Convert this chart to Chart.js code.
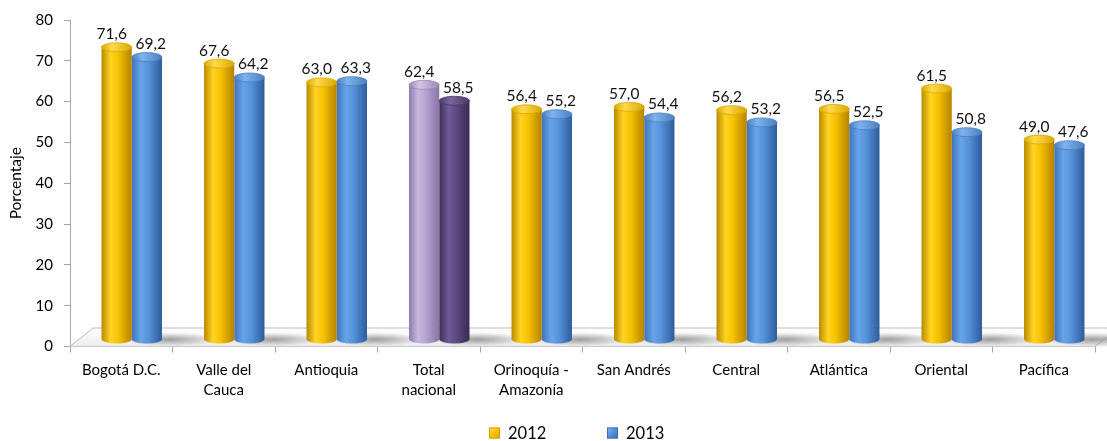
<!DOCTYPE html>
<html><head><meta charset="utf-8">
<script src="https://cdn.jsdelivr.net/npm/chart.js@4/dist/chart.umd.min.js"></script>
<style>html,body{margin:0;padding:0;background:#fff}#wrap{width:1107px;height:441px;position:relative}</style>
</head><body><div id="wrap"><canvas id="c" width="1107" height="441"></canvas></div>
<script>
const categories = [["Bogotá D.C."],["Valle del","Cauca"],["Antioquia"],["Total","nacional"],["Orinoquía -","Amazonía"],["San Andrés"],["Central"],["Atlántica"],["Oriental"],["Pacífica"]];
const values2012 = [71.6,67.6,63.0,62.4,56.4,57.0,56.2,56.5,61.5,49.0];
const values2013 = [69.2,64.2,63.3,58.5,55.2,54.4,53.2,52.5,50.8,47.6];
const seriesNames = ["2012","2013"];
const yMin = 0, yMax = 80, yStep = 10;
const highlightIndex = 3; // Total nacional

const FONT = "Lato, 'Open Sans', sans-serif";
const CAT_PCT = 0.59;
const DX = 10.5, DY = -7;

const GOLD = {e1:'#b98a00', hi:'#ffd423', mid:'#f6c200', e2:'#b58200', top:'#ffd94e', topE:'#d9a800', flat:'#ffc000', lb1:'#ffe066', lb2:'#d9a000'};
const BLUE = {e1:'#3e73ba', hi:'#67a4ea', mid:'#5793da', e2:'#2d5c9c', top:'#7fb3ee', topE:'#4a7fc0', flat:'#558ed5', lb1:'#8cbcf0', lb2:'#3a6eb5'};
const PUR_L = {e1:'#8f7aac', hi:'#c7b8dd', mid:'#b6a4d0', e2:'#8a74a6', top:'#d2c6e4', topE:'#9c88b8', flat:'#b3a2c7'};
const PUR_D = {e1:'#3f2d5a', hi:'#6e5a95', mid:'#5f4b83', e2:'#3a2a54', top:'#7a67a0', topE:'#4b3a68', flat:'#604a7b'};
function pal(d,i){ if(i===highlightIndex) return d===0?PUR_L:PUR_D; return d===0?GOLD:BLUE; }

function geom(chart,d,i){
  const xs = chart.scales.x;
  const cat = (xs.right - xs.left)/categories.length;
  const size = cat*CAT_PCT;
  const cx = xs.getPixelForValue(i) + (d===0 ? -size/4 : size/4);
  return {l: cx - size/4, r: cx + size/4};
}
function grad(ctx,l,r,p){
  const g = ctx.createLinearGradient(l,0,r,0);
  g.addColorStop(0,p.e1); g.addColorStop(0.3,p.hi); g.addColorStop(0.55,p.mid); g.addColorStop(1,p.e2);
  return g;
}
function bg(context){
  const chart = context.chart;
  const p = pal(context.datasetIndex, context.dataIndex);
  if (context.dataIndex === undefined || !chart.scales || !chart.scales.x) return p.flat;
  const gm = geom(chart, context.datasetIndex, context.dataIndex);
  if (!isFinite(gm.l) || !isFinite(gm.r) || gm.r <= gm.l) return p.flat;
  return grad(chart.ctx, gm.l, gm.r, p);
}

const cylPlugin = {
  id:'cyl',
  beforeDatasetsDraw(chart){
    const ctx = chart.ctx, a = chart.chartArea;
    const fy = a.bottom, by = a.bottom - 19;
    ctx.save();
    const fg = ctx.createLinearGradient(0,by,0,fy);
    fg.addColorStop(0,'#ffffff'); fg.addColorStop(1,'#ececec');
    ctx.beginPath();
    ctx.moveTo(a.left, fy); ctx.lineTo(a.left+23, by); ctx.lineTo(chart.width+20, by); ctx.lineTo(a.right+23, fy - 0); ctx.closePath();
    ctx.fillStyle = fg; ctx.fill();
    ctx.strokeStyle = '#bdbdbd'; ctx.lineWidth = 1;
    ctx.beginPath(); ctx.moveTo(a.left, fy); ctx.lineTo(a.left+23, by+0.5); ctx.lineTo(chart.width, by+0.5); ctx.stroke();
    ctx.beginPath(); ctx.moveTo(a.right, fy); ctx.lineTo(a.right+14, fy-11); ctx.stroke();
    const m1 = chart.getDatasetMeta(1);
    m1.data.forEach(el=>{
      const sx = el.x + el.width/2 + DX + 8, sy = fy - 7;
      ctx.save();
      ctx.translate(sx, sy); ctx.scale(1, 0.14);
      const rg = ctx.createRadialGradient(0,0,0,0,0,48);
      rg.addColorStop(0,'rgba(90,90,90,0.55)'); rg.addColorStop(1,'rgba(90,90,90,0)');
      ctx.fillStyle = rg; ctx.beginPath(); ctx.arc(0,0,48,0,Math.PI*2); ctx.fill();
      ctx.restore();
    });
    ctx.restore();
    ctx.save();
    ctx.translate(DX, DY);
  },
  afterDatasetsDraw(chart){
    const ctx = chart.ctx;
    const RY = 4.5;
    [0,1].forEach(d=>{
      chart.getDatasetMeta(d).data.forEach((el,i)=>{
        const p = pal(d,i);
        const l = el.x - el.width/2, r = el.x + el.width/2, rx = el.width/2;
        ctx.fillStyle = grad(ctx,l,r,p);
        ctx.beginPath(); ctx.ellipse(el.x, el.base, rx, RY, 0, 0, Math.PI); ctx.fill();
        const tg = ctx.createLinearGradient(l,0,r,0);
        tg.addColorStop(0,p.topE); tg.addColorStop(0.35,p.top); tg.addColorStop(1,p.topE);
        ctx.fillStyle = tg;
        ctx.beginPath(); ctx.ellipse(el.x, el.y, rx, RY, 0, 0, Math.PI*2); ctx.fill();
        ctx.strokeStyle = p.topE; ctx.lineWidth = 0.8; ctx.stroke();
      });
    });
    ctx.restore();
    ctx.save();
    ctx.font = "15.5px " + FONT; ctx.fillStyle = '#111'; ctx.textAlign='center'; ctx.textBaseline='middle';
    [0,1].forEach(d=>{
      const ds = chart.data.datasets[d];
      chart.getDatasetMeta(d).data.forEach((el,i)=>{
        const t = ds.data[i].toFixed(1).replace('.',',');
        ctx.fillText(t, el.x + DX + (d===0?-5:4), el.y + DY - 13);
      });
    });
    ctx.restore();
  },
  afterDraw(chart){
    const ctx = chart.ctx, a = chart.chartArea;
    const cy = 433;
    const x0 = (a.left + a.right)/2 - 93.5;
    const items = [{x:x0, p:GOLD, t:seriesNames[0]}, {x:x0+118, p:BLUE, t:seriesNames[1]}];
    ctx.save();
    ctx.font = "16.5px " + FONT; ctx.textBaseline = 'middle'; ctx.textAlign = 'left';
    items.forEach(it=>{
      const g = ctx.createLinearGradient(it.x, cy-5.5, it.x+11, cy+5.5);
      g.addColorStop(0, it.p.lb1); g.addColorStop(0.5, it.p.flat); g.addColorStop(1, it.p.lb2);
      ctx.fillStyle = g; ctx.fillRect(it.x, cy-5.5, 11, 11);
      ctx.strokeStyle = it.p.lb2; ctx.lineWidth = 1; ctx.strokeRect(it.x+0.5, cy-5, 10, 10);
      ctx.fillStyle = '#000';
      ctx.fillText(it.t, it.x + 19, cy + 0.5);
    });
    ctx.restore();
  }
};

const yTicks = []; for (let v=yMin; v<=yMax; v+=yStep) yTicks.push(v);

new Chart(document.getElementById('c'), {
  type:'bar',
  data:{
    labels: categories,
    datasets:[
      {label: seriesNames[0], data: values2012, backgroundColor: bg, borderWidth:0, categoryPercentage: CAT_PCT, barPercentage:1},
      {label: seriesNames[1], data: values2013, backgroundColor: bg, borderWidth:0, categoryPercentage: CAT_PCT, barPercentage:1}
    ]
  },
  options:{
    responsive:false, animation:false, devicePixelRatio:1,
    layout:{padding:{left:0,right:12,top:20,bottom:0}},
    plugins:{ tooltip:{enabled:false}, legend:{display:false} },
    scales:{
      x:{
        grid:{display:true, drawOnChartArea:false, tickLength:6, color:'#a6a6a6', offset:true},
        border:{display:true, color:'#a6a6a6'},
        ticks:{font:{family:FONT,size:15,lineHeight:1.3}, color:'#000', padding:8, maxRotation:0, autoSkip:false},
        afterFit(s){ s.height = 94.5; }
      },
      y:{
        min:yMin, max:yMax,
        afterBuildTicks(s){ s.ticks = yTicks.map(v=>({value:v})); },
        grid:{display:true, drawOnChartArea:false, tickLength:6, color:'#a6a6a6'},
        border:{display:true, color:'#a6a6a6'},
        ticks:{font:{family:FONT,size:15}, color:'#000', padding:11},
        title:{display:true, text:'Porcentaje', font:{family:FONT,size:15.5}, color:'#000', padding:{top:7,bottom:0}},
        afterFit(s){ s.width = 70; }
      }
    }
  },
  plugins:[cylPlugin]
});
</script></body></html>
